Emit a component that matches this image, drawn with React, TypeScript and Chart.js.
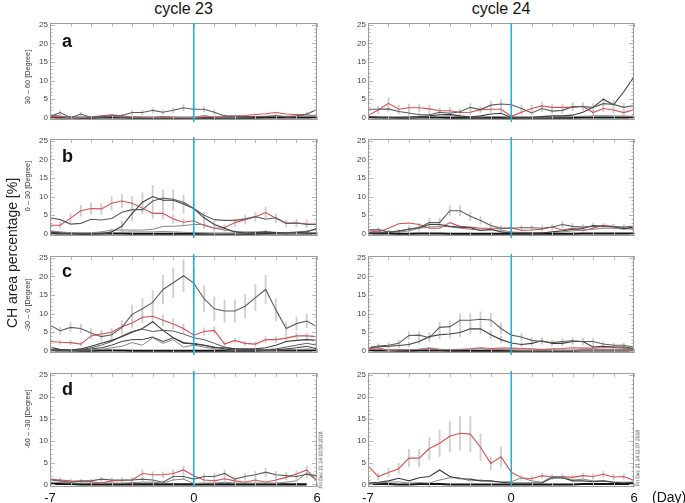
import React, { useEffect, useRef } from 'react';
import { Chart, registerables } from 'chart.js';
Chart.register(...registerables);

// ---------- data ----------
const days = [-7, -6.5, -6, -5.5, -5, -4.5, -4, -3.5, -3, -2.5, -2, -1.5, -1, -0.5, 0, 0.5, 1, 1.5, 2, 2.5, 3, 3.5, 4, 4.5, 5, 5.5, 6];
const xTickLabels = [-7, 0, 6];
const yTickLabels = [0, 5, 10, 15, 20, 25];
const columnTitles = ['cycle 23', 'cycle 24'];
const rowTitles = ['30 – 60 [Degree]', '0 – 30 [Degree]', '-30 – 0 [Degree]', '-60 – -30 [Degree]'];
const rowLetters = ['a', 'b', 'c', 'd'];
const stamps = ['Fri Dec 21 14:10:58 2018', 'Fri Dec 21 14:11:07 2018'];

const zeroLine = [0.1, 0.1, 0.1, 0, 0, 0.1, 0.1, 0.1, 0, 0, 0, 0, 0, 0, 0, 0, 0, 0, 0, 0, 0, 0.1, 0.1, 0.1, 0.1, 0.1, 0.1];

// cycle 23, 30..60
const c23a_red = [0.2, 0.3, 0.0, 0.1, 0.2, 0.5, 0.8, 0.5, 0.2, 0.2, 0.1, 0.3, 0.2, 0.0, 0.0, 0.2, 0.2, 0.3, 0.5, 0.6, 0.9, 1.1, 1.4, 1.0, 0.9, 0.8, 0.4];
const c23a_g1 = [0.3, 1.4, 0.0, 1.0, 0.1, 0.3, 0.5, 0.6, 1.4, 1.4, 2.0, 1.5, 2.0, 2.7, 2.3, 2.3, 1.5, 0.5, 0.3, 0.3, 0.3, 0.3, 0.5, 0.3, 0.5, 1.0, 2.2];
const c23a_g1_err = [0.4, 0.6, 0.3, 0.5, 0.3, 0.3, 0.4, 0.4, 0.6, 0.6, 0.7, 0.6, 0.7, 0.8, 0.7, 0.7, 0.6, 0.4, 0.3, 0.3, 0.3, 0.3, 0.4, 0.3, 0.4, 0.5, 0.7];
const c23a_g2 = [0.8, 0.5, 0.1, 0.1, 0.2, 0.2, 0.3, 0.2, 0.2, 0.1, 0.1, 0.1, 0.1, 0.1, 0.1, 0.6, 0.2, 0.1, 0.1, 0.2, 0.3, 0.4, 0.5, 0.2, 0.3, 0.8, 0.4];

// cycle 24, 30..60
const c24a_red = [0.6, 2.1, 3.9, 2.3, 2.7, 2.7, 2.4, 1.9, 1.9, 1.4, 1.5, 2.2, 2.3, 2.3, 0.4, 1.5, 2.5, 3.2, 2.8, 2.8, 2.8, 3.1, 1.4, 2.5, 2.1, 1.4, 2.2];
const c24a_red_err = [0.8, 1.0, 1.5, 1.0, 1.0, 1.0, 1.0, 0.8, 0.8, 0.7, 0.7, 0.8, 0.8, 0.8, 0.4, 0.7, 0.9, 1.0, 0.9, 0.9, 0.9, 1.0, 0.7, 0.9, 0.8, 0.7, 0.8];
const c24a_g1 = [2.3, 2.3, 2.4, 1.7, 1.3, 0.8, 0.8, 1.5, 1.2, 1.6, 2.8, 2.2, 3.4, 3.7, 3.5, 2.5, 1.3, 2.5, 1.8, 2.0, 3.0, 3.0, 2.8, 3.8, 3.6, 2.8, 3.3];
const c24a_g1_err = [0.8, 0.8, 0.8, 0.7, 0.6, 0.5, 0.5, 0.7, 0.6, 0.7, 1.0, 0.8, 1.1, 1.2, 1.1, 0.9, 0.6, 0.9, 0.7, 0.8, 1.0, 1.0, 1.0, 1.5, 1.2, 1.0, 1.1];
const c24a_g2 = [0.3, 0.1, 0.0, 0.1, 0.2, 0.3, 0.5, 0.8, 0.9, 0.5, 0.2, 0.5, 1.0, 1.2, 0.1, 0.1, 0.1, 0.3, 0.5, 0.5, 0.7, 1.5, 2.8, 5.0, 3.5, 7.0, 11.0];
const c24a_g3 = [0.4, 0.2, 0.1, 0.1, 0.1, 0.2, 0.3, 0.3, 0.5, 0.3, 0.2, 0.2, 0.3, 0.3, 0.1, 0.0, 0.0, 0.1, 0.2, 0.2, 0.3, 0.4, 0.5, 0.6, 0.5, 0.5, 0.4];

// cycle 23, 0..30
const c23b_red = [2.3, 2.3, 4.2, 6.2, 6.8, 6.7, 8.2, 8.8, 8.2, 6.9, 5.5, 5.5, 4.0, 3.1, 3.5, 2.2, 1.5, 1.6, 3.0, 3.8, 4.6, 5.7, 4.2, 2.8, 2.9, 2.7, 2.6];
const c23b_red_err = [0.8, 0.8, 1.2, 1.5, 1.5, 1.5, 1.8, 1.8, 1.8, 1.5, 1.5, 1.5, 1.2, 1.0, 1.0, 0.8, 0.8, 0.8, 1.0, 1.2, 1.2, 1.5, 1.2, 1.0, 1.0, 1.0, 1.0];
const c23b_g1 = [4.3, 3.8, 2.6, 2.8, 3.9, 3.7, 4.1, 5.8, 6.5, 6.5, 8.8, 9.6, 9.3, 8.5, 6.8, 5.0, 3.8, 3.6, 3.6, 4.0, 4.6, 3.9, 4.3, 2.8, 2.9, 2.5, 2.5];
const c23b_g2 = [0.5, 0.2, 0.0, 0.0, 0.0, 0.0, 0.5, 2.0, 5.5, 8.5, 10.0, 9.0, 9.0, 8.0, 6.8, 4.3, 2.5, 1.5, 0.5, 0.2, 0.3, 0.5, 0.3, 0.2, 0.3, 0.5, 1.5];
const c23b_g2_err = [0.5, 0.3, 0.2, 0.2, 0.2, 0.3, 0.8, 1.5, 2.0, 2.5, 3.0, 2.8, 2.8, 2.5, 2.0, 1.5, 1.0, 0.8, 0.5, 0.3, 0.3, 0.5, 0.3, 0.3, 0.3, 0.5, 0.8];
const c23b_g3 = [0.8, 0.5, 0.3, 0.2, 0.3, 0.5, 1.0, 1.0, 1.0, 1.0, 1.2, 2.0, 2.0, 2.2, 2.5, 2.5, 1.5, 1.0, 0.6, 0.5, 0.5, 0.5, 0.3, 0.3, 0.5, 0.7, 1.2];
const c23b_g4 = [0.3, 0.2, 0.1, 0.1, 0.1, 0.2, 0.3, 0.4, 0.5, 0.5, 0.5, 0.6, 0.5, 0.4, 0.3, 0.2, 0.1, 0.1, 0.1, 0.1, 0.2, 0.3, 0.2, 0.1, 0.1, 0.2, 0.3];

// cycle 24, 0..30
const c24b_red = [0.8, 0.5, 1.5, 2.7, 2.9, 2.5, 1.5, 1.5, 3.0, 2.0, 1.8, 1.5, 1.5, 1.5, 1.6, 0.9, 1.0, 1.2, 1.8, 1.0, 1.5, 0.8, 1.5, 2.3, 2.0, 1.5, 1.2];
const c24b_g1 = [1.1, 1.0, 0.5, 0.6, 1.3, 1.7, 3.0, 3.0, 6.2, 6.2, 4.7, 3.6, 2.2, 1.5, 1.5, 1.6, 1.6, 1.5, 1.8, 2.5, 2.0, 1.8, 2.0, 2.0, 1.9, 1.8, 2.1];
const c24b_g1_err = [0.5, 0.6, 0.4, 0.5, 0.8, 1.0, 1.2, 1.2, 1.4, 1.4, 1.2, 1.0, 0.8, 0.7, 0.7, 0.7, 0.7, 0.7, 0.7, 0.8, 0.8, 0.7, 0.8, 0.8, 0.7, 0.7, 0.8];
const c24b_g2 = [0.2, 0.2, 0.3, 0.8, 1.2, 1.6, 2.5, 2.5, 2.0, 1.8, 1.6, 0.9, 1.2, 0.5, 0.2, 0.2, 0.2, 0.2, 0.5, 0.8, 1.2, 1.4, 2.2, 2.0, 1.9, 1.4, 1.8];
const c24b_g3 = [0.9, 1.2, 0.5, 0.4, 0.8, 1.5, 1.8, 2.0, 1.9, 1.5, 1.2, 1.0, 1.0, 1.0, 0.5, 0.3, 0.3, 0.3, 0.4, 0.5, 0.8, 1.0, 1.2, 1.5, 1.5, 1.2, 1.5];

// cycle 23, -30..0
const c23c_g1 = [6.9, 5.4, 6.3, 6.0, 4.8, 3.8, 4.3, 6.3, 9.8, 11.3, 13.0, 16.5, 18.3, 20.2, 18.2, 14.0, 11.3, 10.7, 10.7, 12.0, 14.3, 16.5, 11.0, 6.0, 7.3, 8.0, 6.5];
const c23c_g1_err = [1.0, 1.0, 1.2, 1.2, 1.2, 1.2, 1.5, 1.8, 2.5, 2.8, 3.2, 3.8, 4.0, 4.3, 4.0, 3.5, 3.2, 3.0, 3.0, 3.2, 3.5, 3.8, 3.0, 1.8, 1.8, 1.8, 1.5];
const c23c_red = [2.5, 2.3, 2.2, 1.8, 4.0, 4.5, 5.0, 6.5, 7.5, 9.0, 9.3, 8.2, 7.2, 6.0, 4.2, 5.2, 5.5, 1.8, 2.8, 2.0, 1.8, 3.0, 3.0, 3.4, 4.0, 4.0, 3.8];
const c23c_red_err = [0.6, 0.6, 0.6, 0.6, 0.8, 1.0, 1.0, 1.2, 1.4, 1.5, 1.6, 1.5, 1.4, 1.2, 1.0, 1.0, 1.0, 0.6, 0.6, 0.6, 0.6, 0.8, 0.8, 0.8, 0.8, 0.8, 0.8];
const c23c_g2 = [1.0, 0.3, 0.2, 0.5, 1.2, 2.0, 2.8, 3.8, 5.0, 6.0, 7.8, 5.5, 3.5, 2.2, 1.8, 1.5, 0.8, 0.8, 0.5, 0.5, 0.5, 0.8, 1.5, 2.5, 2.8, 3.0, 2.8];
const c23c_g3 = [0.5, 0.2, 0.0, 0.3, 0.8, 1.5, 2.5, 4.0, 5.2, 5.8, 5.2, 5.5, 5.3, 4.5, 3.5, 3.0, 2.0, 1.0, 0.5, 0.3, 0.3, 0.3, 0.5, 1.0, 1.5, 2.0, 1.5];
const c23c_g4 = [0.3, 0.1, 0.0, 0.2, 0.5, 0.8, 1.5, 2.5, 3.0, 3.0, 3.7, 2.5, 3.5, 2.0, 2.0, 1.5, 1.0, 0.5, 0.2, 0.1, 0.1, 0.2, 0.3, 0.5, 0.8, 1.2, 0.5];
const c23c_g5 = [0.2, 0.1, 0.0, 0.1, 0.2, 0.4, 0.8, 1.2, 2.2, 1.5, 3.5, 2.0, 3.0, 1.0, 1.5, 1.0, 0.5, 0.3, 0.1, 0.1, 0.1, 0.1, 0.2, 0.3, 0.3, 0.5, 0.3];

// cycle 24, -30..0
const c24c_g1 = [0.8, 1.3, 1.5, 2.0, 4.1, 4.2, 3.5, 6.3, 6.5, 8.2, 8.2, 8.5, 8.3, 6.0, 4.2, 3.7, 2.8, 2.5, 2.2, 2.5, 2.7, 2.5, 2.5, 1.8, 1.5, 1.5, 1.0];
const c24c_g1_err = [0.5, 0.6, 0.7, 0.8, 1.0, 1.0, 1.0, 1.5, 1.5, 1.8, 1.8, 2.0, 1.8, 1.5, 1.2, 1.0, 0.8, 0.8, 0.7, 0.8, 0.8, 0.8, 0.8, 0.6, 0.6, 0.6, 0.5];
const c24c_g2 = [0.8, 1.1, 1.2, 1.4, 1.7, 2.5, 3.8, 4.3, 4.5, 4.9, 5.9, 5.9, 4.3, 3.0, 2.1, 1.7, 2.0, 2.7, 2.0, 2.0, 2.5, 2.5, 1.0, 1.2, 1.0, 1.0, 0.6];
const c24c_g2_err = [0.4, 0.5, 0.5, 0.6, 0.7, 0.8, 1.0, 1.1, 1.1, 1.2, 1.3, 1.3, 1.1, 0.9, 0.7, 0.6, 0.7, 0.8, 0.7, 0.7, 0.8, 0.8, 0.5, 0.5, 0.5, 0.5, 0.4];
const c24c_red = [0.5, 0.8, 0.1, 0.3, 0.3, 0.4, 0.6, 0.3, 0.3, 0.4, 0.5, 0.8, 0.6, 0.7, 0.7, 0.6, 0.5, 0.3, 0.5, 0.6, 0.8, 0.7, 0.7, 0.8, 0.8, 0.7, 0.6];
const c24c_g3 = [0.3, 0.4, 0.2, 0.2, 0.3, 0.4, 0.8, 0.4, 0.3, 0.3, 0.4, 0.6, 0.3, 0.3, 0.2, 0.1, 0.1, 0.1, 0.1, 0.1, 0.1, 0.1, 0.1, 0.1, 0.1, 0.1, 0.1];

// cycle 23, -60..-30
const c23d_red = [1.2, 1.0, 0.8, 0.7, 0.6, 0.3, 0.8, 0.9, 1.0, 2.5, 2.2, 2.2, 2.5, 3.3, 2.0, 1.0, 0.8, 1.3, 0.8, 0.5, 1.0, 0.5, 1.0, 1.6, 2.4, 3.3, 0.8];
const c23d_red_err = [0.5, 0.5, 0.4, 0.4, 0.4, 0.3, 0.4, 0.5, 0.5, 0.8, 0.7, 0.7, 0.8, 0.9, 0.7, 0.5, 0.4, 0.5, 0.4, 0.3, 0.5, 0.3, 0.5, 0.6, 0.7, 0.9, 0.4];
const c23d_g1 = [1.0, 0.8, 0.5, 0.8, 0.8, 1.2, 1.0, 1.0, 1.0, 1.2, 1.0, 0.5, 1.8, 1.8, 1.2, 1.8, 1.8, 2.5, 1.2, 1.8, 2.2, 2.8, 2.2, 2.0, 1.8, 2.3, 2.0];
const c23d_g1_err = [0.5, 0.4, 0.3, 0.4, 0.4, 0.5, 0.5, 0.5, 0.5, 0.5, 0.5, 0.3, 0.7, 0.7, 0.5, 0.7, 0.7, 0.8, 0.5, 0.7, 0.8, 0.9, 0.8, 0.7, 0.7, 0.8, 0.7];
const c23d_g2 = [0.5, 0.4, 0.3, 0.3, 0.3, 0.3, 0.3, 0.3, 0.4, 0.5, 0.5, 0.3, 1.0, 1.2, 0.2, 0.3, 0.3, 0.5, 0.3, 0.3, 0.3, 0.3, 0.3, 0.5, 0.8, 2.6, 0.8];
const c23d_k = [0.1, 0.1, 0.1, 0, 0, 0, 0, 0, 0, 0, 0, 0, 0, 0, 0, 0, 0, 0, 0, 0, 0, 0, 0, 0, 0, 0, null];

// cycle 24, -60..-30
const c24d_red = [4.3, 1.8, 2.7, 3.6, 6.0, 6.0, 8.2, 9.4, 11.0, 11.7, 11.5, 8.5, 4.8, 6.3, 2.8, 1.5, 1.3, 2.0, 1.7, 1.8, 1.6, 2.0, 1.8, 2.3, 1.7, 1.8, 0.9];
const c24d_red_err = [0.8, 0.8, 1.0, 1.2, 2.0, 2.0, 2.5, 3.0, 3.5, 3.8, 4.0, 3.0, 1.5, 2.3, 0.8, 0.6, 0.6, 0.6, 0.6, 0.6, 0.6, 0.6, 0.6, 0.7, 0.6, 0.6, 0.5];
const c24d_g1 = [0.3, 0.5, 0.8, 1.4, 0.8, 1.5, 1.8, 3.3, 1.8, 1.3, 1.2, 0.8, 0.8, 0.5, 0.3, 0.3, 0.3, 0.3, 1.5, 1.5, 0.8, 0.8, 0.6, 0.8, 0.5, 0.3, 0.5];
const c24d_g2 = [0.1, 0.3, 0.5, 0.6, 0.3, 0.4, 0.3, 1.0, 1.5, 1.5, 0.8, 1.0, 0.7, 0.6, 0.6, 1.5, 0.8, 0.5, 1.8, 1.8, 1.0, 1.2, 0.8, 0.8, 0.5, 0.5, 0.5];

// ---------- styles / layout ----------
const RED = '#d85050';
const G_DARK = '#3d3d3d';
const G_MID = '#5c5c5c';
const G_LIGHT = '#858585';
const BLACK = '#111111';
const ERR = '#cfcfcf';
const FONT = '"Liberation Sans", Arial, Helvetica, sans-serif';

const PLOT_H = 114;
const AXIS_W = 20;
const PAD_T = 2;
const PAD_R = 10;
const PAD_B = 2;
const XAXIS_H = 17;
const plotLefts = [50, 368];
const plotWidths = [267, 266];
const plotTops = [23, 139, 256, 373];

type Line = { data: (number | null)[]; color: string; width: number; err?: number[] };
type PanelSpec = { col: number; row: number; lines: Line[] };

const panels: PanelSpec[] = [
  { col: 0, row: 0, lines: [
    { data: c23a_g1, color: G_MID, width: 1.1, err: c23a_g1_err },
    { data: c23a_g2, color: G_LIGHT, width: 1 },
    { data: c23a_red, color: RED, width: 1.1 },
    { data: zeroLine, color: BLACK, width: 2 },
  ] },
  { col: 1, row: 0, lines: [
    { data: c24a_g1, color: G_MID, width: 1.1, err: c24a_g1_err },
    { data: c24a_g2, color: G_DARK, width: 1.1 },
    { data: c24a_g3, color: G_LIGHT, width: 1 },
    { data: c24a_red, color: RED, width: 1.1, err: c24a_red_err },
    { data: zeroLine, color: BLACK, width: 2 },
  ] },
  { col: 0, row: 1, lines: [
    { data: c23b_g1, color: G_MID, width: 1.1 },
    { data: c23b_g2, color: G_DARK, width: 1.1, err: c23b_g2_err },
    { data: c23b_g3, color: G_LIGHT, width: 1 },
    { data: c23b_g4, color: G_LIGHT, width: 1 },
    { data: c23b_red, color: RED, width: 1.1, err: c23b_red_err },
    { data: zeroLine, color: BLACK, width: 2 },
  ] },
  { col: 1, row: 1, lines: [
    { data: c24b_g1, color: G_MID, width: 1.1, err: c24b_g1_err },
    { data: c24b_g2, color: G_DARK, width: 1.1 },
    { data: c24b_g3, color: G_LIGHT, width: 1 },
    { data: c24b_red, color: RED, width: 1.1 },
    { data: zeroLine, color: BLACK, width: 2 },
  ] },
  { col: 0, row: 2, lines: [
    { data: c23c_g1, color: G_MID, width: 1.1, err: c23c_g1_err },
    { data: c23c_g2, color: G_DARK, width: 1.1 },
    { data: c23c_g3, color: G_MID, width: 1 },
    { data: c23c_g4, color: G_DARK, width: 1 },
    { data: c23c_g5, color: G_LIGHT, width: 1 },
    { data: c23c_red, color: RED, width: 1.1, err: c23c_red_err },
    { data: zeroLine, color: BLACK, width: 2 },
  ] },
  { col: 1, row: 2, lines: [
    { data: c24c_g1, color: G_MID, width: 1.1, err: c24c_g1_err },
    { data: c24c_g2, color: G_DARK, width: 1.1, err: c24c_g2_err },
    { data: c24c_g3, color: G_LIGHT, width: 1 },
    { data: c24c_red, color: RED, width: 1.1 },
    { data: zeroLine, color: BLACK, width: 2 },
  ] },
  { col: 0, row: 3, lines: [
    { data: c23d_g1, color: G_MID, width: 1.1, err: c23d_g1_err },
    { data: c23d_g2, color: G_LIGHT, width: 1 },
    { data: c23d_red, color: RED, width: 1.1, err: c23d_red_err },
    { data: c23d_k, color: BLACK, width: 2.2 },
  ] },
  { col: 1, row: 3, lines: [
    { data: c24d_g1, color: G_DARK, width: 1.1 },
    { data: c24d_g2, color: G_LIGHT, width: 1 },
    { data: c24d_red, color: RED, width: 1.1, err: c24d_red_err },
    { data: zeroLine, color: BLACK, width: 2 },
  ] },
];

const makeFrame = (extendTop: number, extendBottom: number) => ({
  id: 'frame',
  afterDatasetsDraw(chart: any) {
    const { ctx, chartArea: a } = chart;
    const xs = chart.scales.x;
    const ys = chart.scales.y;
    ctx.save();
    ctx.beginPath();
    ctx.strokeStyle = '#b8b8b8';
    ctx.lineWidth = 1;
    for (let v = 0; v <= 25; v += 1) {
      const py = Math.round(ys.getPixelForValue(v)) + 0.5;
      const len = v % 5 === 0 ? 5 : 2.5;
      ctx.moveTo(a.left, py); ctx.lineTo(a.left + len, py);
      ctx.moveTo(a.right, py); ctx.lineTo(a.right - len, py);
    }
    for (let d = -7; d <= 6; d += 1) {
      const px = Math.round(xs.getPixelForValue(d)) + 0.5;
      ctx.moveTo(px, a.top); ctx.lineTo(px, a.top + 4);
      ctx.moveTo(px, a.bottom); ctx.lineTo(px, a.bottom - 4);
    }
    ctx.stroke();
    ctx.strokeStyle = '#9c9c9c';
    ctx.strokeRect(a.left + 0.5, a.top + 0.5, a.width - 1, a.height - 1);
    const cx = xs.getPixelForValue(0);
    ctx.beginPath();
    ctx.strokeStyle = '#1fade6';
    ctx.lineWidth = 1.5;
    ctx.moveTo(cx, a.top - extendTop);
    ctx.lineTo(cx, a.bottom + extendBottom);
    ctx.stroke();
    ctx.restore();
  },
});

function Panel({ spec }: { spec: PanelSpec }) {
  const ref = useRef<HTMLCanvasElement>(null);
  const showX = spec.row === 3;
  const plotW = plotWidths[spec.col];
  const w = AXIS_W + plotW + PAD_R;
  const h = PAD_T + PLOT_H + (showX ? XAXIS_H : PAD_B);
  const left = plotLefts[spec.col] - AXIS_W;
  const top = plotTops[spec.row] - PAD_T;

  useEffect(() => {
    const datasets: any[] = [];
    spec.lines.forEach((ln) => {
      datasets.push({
        type: 'line',
        data: days.map((d, i) => ({ x: d, y: ln.data[i] })),
        borderColor: ln.color,
        borderWidth: ln.width,
        pointRadius: 0,
        tension: 0,
        fill: false,
        order: 0,
      });
      if (ln.err) {
        const e = ln.err;
        datasets.push({
          type: 'bar',
          data: days.map((d, i) => ({ x: d, y: [(ln.data[i] as number) - e[i], (ln.data[i] as number) + e[i]] })),
          backgroundColor: ERR,
          barThickness: 1.2,
          grouped: false,
          order: 1,
        });
      }
    });
    const chart = new Chart(ref.current as HTMLCanvasElement, {
      type: 'line',
      data: { datasets },
      options: {
        animation: false,
        responsive: false,
        devicePixelRatio: 1,
        layout: { padding: { left: 0, right: PAD_R, top: PAD_T, bottom: showX ? 0 : PAD_B } },
        plugins: { legend: { display: false }, tooltip: { enabled: false } },
        events: [],
        scales: {
          x: {
            type: 'linear',
            min: -7,
            max: 6,
            offset: false,
            display: showX,
            grid: { display: false, drawTicks: false },
            border: { display: false },
            ticks: { font: { family: FONT, size: 13 }, color: '#111', padding: 4, maxRotation: 0, autoSkip: false },
            afterBuildTicks: (s: any) => { s.ticks = xTickLabels.map((v) => ({ value: v })); },
            afterFit: (s: any) => { s.height = XAXIS_H; s.paddingLeft = 0; s.paddingRight = 0; },
          },
          y: {
            type: 'linear',
            min: -0.6,
            max: 25.5,
            grid: { display: false, drawTicks: false },
            border: { display: false },
            ticks: { font: { family: FONT, size: 8 }, color: '#444', padding: 2, autoSkip: false },
            afterBuildTicks: (s: any) => { s.ticks = yTickLabels.map((v) => ({ value: v })); },
            afterFit: (s: any) => { s.width = AXIS_W; s.paddingTop = 0; s.paddingBottom = 0; },
          },
        },
      } as any,
      plugins: [makeFrame(spec.row === 0 ? 0 : 2, spec.row === 3 ? 0 : 2)],
    });
    return () => chart.destroy();
  }, []);

  return (
    <div style={{ position: 'absolute', left, top, width: w, height: h }}>
      <canvas ref={ref} width={w} height={h} style={{ width: w, height: h, display: 'block' }} />
    </div>
  );
}

const abs = (s: React.CSSProperties): React.CSSProperties => ({ position: 'absolute', fontFamily: FONT, whiteSpace: 'nowrap', ...s });

export default function App() {
  const rowTitleY = [76.5, 186, 305, 418.5];
  const letterTops = [32, 147, 262, 380];
  return (
    <div style={{ position: 'absolute', left: 0, top: 0, width: 685, height: 503, background: '#fff', overflow: 'hidden' }}>
      {panels.map((p, i) => <Panel key={i} spec={p} />)}
      {columnTitles.map((t, i) => (
        <div key={t} style={abs({ left: plotLefts[i] + plotWidths[i] / 2 - 60, width: 120, top: 1, textAlign: 'center', fontSize: 16, lineHeight: '16px', color: '#111' })}>{t}</div>
      ))}
      {rowTitles.map((t, i) => (
        <div key={t} style={abs({ left: 28, top: rowTitleY[i], fontSize: 7.3, lineHeight: '8px', color: '#333', transform: 'translate(-50%, -50%) rotate(-90deg)' })}>{t}</div>
      ))}
      {rowLetters.map((t, i) => (
        <div key={t} style={abs({ left: 62, top: letterTops[i], fontSize: 18, lineHeight: '18px', fontWeight: 'bold', color: '#111' })}>{t}</div>
      ))}
      <div style={abs({ left: 12, top: 253, fontSize: 14, lineHeight: '16px', color: '#222', transform: 'translate(-50%, -50%) rotate(-90deg)' })}>CH area percentage [%]</div>
      <div style={abs({ left: 652, top: 489, fontSize: 14, lineHeight: '16px', color: '#111' })}>(Day)</div>
      <div style={abs({ left: 321, top: 460, fontSize: 5, lineHeight: '5px', color: '#444', transform: 'translate(-50%, -50%) rotate(-90deg)' })}>{stamps[0]}</div>
      <div style={abs({ left: 638, top: 458, fontSize: 5, lineHeight: '5px', color: '#444', transform: 'translate(-50%, -50%) rotate(-90deg)' })}>{stamps[1]}</div>
    </div>
  );
}
